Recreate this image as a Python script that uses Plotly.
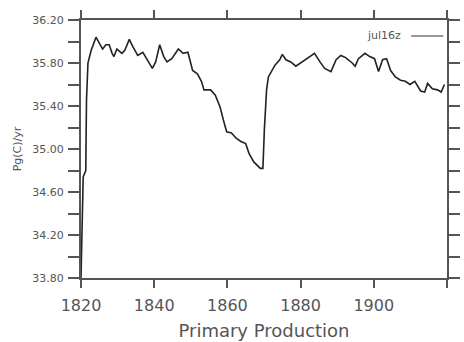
import plotly.graph_objects as go

# Primary production time series (Pg C / yr)
years = [1820.0, 1820.6, 1821.3, 1821.5, 1821.9, 1822.8, 1824.1, 1825.0, 1825.9, 1826.8,
         1827.7, 1828.5, 1829.0, 1829.8, 1831.2, 1832.0, 1833.2, 1834.2, 1835.5, 1836.9,
         1838.2, 1839.5, 1840.4, 1841.5, 1842.6, 1843.5, 1844.8, 1846.6, 1847.9, 1849.2,
         1850.5, 1851.8, 1852.9, 1853.6, 1854.5, 1855.4, 1856.7, 1858.0, 1858.9, 1859.8,
         1861.1, 1862.4, 1863.7, 1865.0, 1865.9, 1867.2, 1869.0, 1869.7, 1870.1, 1870.7,
         1871.2, 1872.1, 1873.0, 1874.3, 1875.0, 1876.0, 1877.3, 1878.7, 1880.0, 1881.7,
         1883.8, 1885.3, 1886.6, 1888.3, 1889.7, 1891.0, 1892.3, 1894.1, 1894.9, 1895.8,
         1897.6, 1898.9, 1900.2, 1901.3, 1902.4, 1903.5, 1904.6, 1905.9, 1907.3, 1908.6,
         1909.9, 1911.2, 1912.8, 1913.9, 1914.7, 1916.0, 1917.4, 1918.4, 1919.3]
production = [33.80, 34.74, 34.80, 35.45, 35.80, 35.92, 36.04, 35.98, 35.93, 35.97,
              35.97, 35.89, 35.86, 35.93, 35.89, 35.92, 36.02, 35.95, 35.87, 35.90,
              35.83, 35.75, 35.81, 35.97, 35.86, 35.81, 35.84, 35.93, 35.89, 35.90,
              35.73, 35.70, 35.63, 35.55, 35.55, 35.55, 35.50, 35.39, 35.27, 35.16,
              35.15, 35.10, 35.07, 35.05, 34.96, 34.88, 34.82, 34.82, 35.18, 35.55,
              35.67, 35.72, 35.78, 35.83, 35.88, 35.83, 35.81, 35.77, 35.80, 35.84,
              35.89, 35.81, 35.75, 35.72, 35.83, 35.87, 35.85, 35.80, 35.77, 35.84,
              35.89, 35.86, 35.84, 35.72, 35.83, 35.84, 35.73, 35.67, 35.64, 35.63,
              35.60, 35.63, 35.54, 35.53, 35.61, 35.56, 35.55, 35.53, 35.60]

series_name = "jul16z"

x_tick_vals = [1820, 1840, 1860, 1880, 1900, 1920]
x_tick_text = ["1820", "1840", "1860", "1880", "1900", ""]
y_tick_vals = [33.80, 34.00, 34.20, 34.40, 34.60, 34.80, 35.00, 35.20, 35.40, 35.60, 35.80, 36.00, 36.20]
y_tick_text = ["33.80", "", "34.20", "", "34.60", "", "35.00", "", "35.40", "", "35.80", "", "36.20"]

FONT = "DejaVu Sans"
TEXT_COLOR = "#555555"
AXIS_COLOR = "#555555"

fig = go.Figure()
fig.add_trace(go.Scatter(
    x=years, y=production, mode="lines", name=series_name,
    line=dict(color="#222222", width=1.6),
    showlegend=False,
))

common_axis = dict(
    showgrid=False, zeroline=False, showline=True, linecolor=AXIS_COLOR, linewidth=2,
    mirror="ticks", ticks="outside", tickcolor=AXIS_COLOR, tickwidth=1.5,
)

fig.update_xaxes(
    range=[1820, 1920], tickvals=x_tick_vals, ticktext=x_tick_text, ticklen=8,
    ticklabelstandoff=4,
    tickfont=dict(family=FONT, size=16, color=TEXT_COLOR),
    title=dict(text="Primary Production", font=dict(family=FONT, size=18, color=TEXT_COLOR),
               standoff=10),
    **common_axis,
)
fig.update_yaxes(
    range=[33.80, 36.20], tickvals=y_tick_vals, ticktext=y_tick_text, ticklen=11,
    ticklabelstandoff=2,
    tickfont=dict(family=FONT, size=11, color=TEXT_COLOR),
    title=dict(text="Pg(C)/yr", font=dict(family=FONT, size=11, color=TEXT_COLOR),
               standoff=8),
    **common_axis,
)

# Legend entry: label followed by a line sample, top right inside the plot
fig.add_annotation(
    xref="paper", yref="paper", x=0.879, y=0.938, xanchor="right", yanchor="middle",
    text=series_name, showarrow=False,
    font=dict(family=FONT, size=11, color=TEXT_COLOR),
)
fig.add_shape(
    type="line", xref="paper", yref="paper", x0=0.902, x1=0.99, y0=0.938, y1=0.938,
    line=dict(color="#777777", width=1.6),
)

fig.update_layout(
    width=464, height=342,
    margin=dict(l=81, r=4, t=20, b=64),
    paper_bgcolor="white", plot_bgcolor="white",
)

fig.write_html("out.html")
